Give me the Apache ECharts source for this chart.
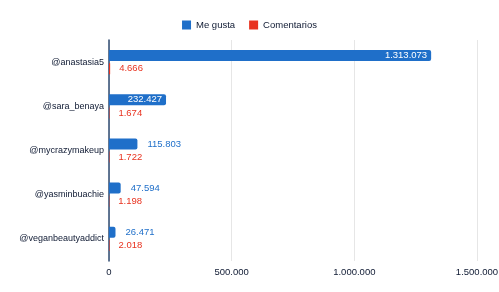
<!DOCTYPE html>
<html>
<head>
<meta charset="utf-8">
<script src="https://cdn.jsdelivr.net/npm/echarts@6/dist/echarts.min.js"></script>
<style>
  html, body { margin: 0; padding: 0; background: #fff; }
  #chart { width: 499px; height: 292px; }
</style>
</head>
<body>
<div id="chart"></div>
<script>
// datos del gráfico
var cuentas = ['@anastasia5', '@sara_benaya', '@mycrazymakeup', '@yasminbuachie', '@veganbeautyaddict'];
var meGusta = [1313073, 232427, 115803, 47594, 26471];
var comentarios = [4666, 1674, 1722, 1198, 2018];
var ticksX = [0, 500000, 1000000, 1500000];

// separador de miles con punto
function fmt(n) {
  return String(n).replace(/\B(?=(\d{3})+(?!\d))/g, '.');
}

var AZUL = '#1f6fc9';
var ROJO = '#e8321f';
var TEXTO = '#0e1932';
var FUENTE = 'Liberation Sans, Arial, sans-serif';
var TAM = 9.5;

var myChart = echarts.init(document.getElementById('chart'));

// etiquetas de me gusta: dentro si la barra es grande
var datosMeGusta = meGusta.map(function (v) {
  var dentro = v > 200000;
  return {
    value: v,
    label: dentro
      ? { position: 'insideRight', color: '#fff', distance: 4 }
      : { position: 'right', color: AZUL, distance: 10 }
  };
});

var option = {
  animation: false,
  legend: {
    top: 15,
    left: 'center',
    itemWidth: 9,
    itemHeight: 9,
    itemGap: 14,
    icon: 'rect',
    textStyle: { color: TEXTO, fontSize: TAM, fontFamily: FUENTE },
    data: ['Me gusta', 'Comentarios']
  },
  grid: { left: 109, right: 22, top: 40, bottom: 31, containLabel: false, outerBoundsMode: 'none' },
  xAxis: {
    type: 'value',
    min: ticksX[0],
    max: ticksX[ticksX.length - 1],
    interval: 500000,
    axisLine: { show: false },
    axisTick: { show: false },
    splitLine: { lineStyle: { color: '#e6e6e6' } },
    axisLabel: {
      color: TEXTO,
      fontSize: TAM,
      fontFamily: FUENTE,
      margin: 6,
      formatter: function (v) { return fmt(v); }
    }
  },
  yAxis: {
    type: 'category',
    inverse: true,
    data: cuentas,
    axisLine: { show: true, lineStyle: { color: '#2e4a70', width: 1.5 } },
    axisTick: { show: false },
    axisLabel: {
      color: TEXTO,
      fontSize: 9,
      fontFamily: FUENTE,
      margin: 5
    }
  },
  series: [
    {
      name: 'Me gusta',
      type: 'bar',
      data: datosMeGusta,
      barWidth: 11,
      barGap: '20%',
      itemStyle: { color: AZUL, borderRadius: [0, 2, 2, 0] },
      label: {
        show: true,
        fontSize: TAM,
        fontFamily: FUENTE,
        formatter: function (p) { return fmt(p.value); }
      }
    },
    {
      name: 'Comentarios',
      type: 'bar',
      data: comentarios,
      barWidth: 11,
      itemStyle: { color: ROJO },
      label: {
        show: true,
        position: 'right',
        distance: 9,
        color: ROJO,
        fontSize: TAM,
        fontFamily: FUENTE,
        formatter: function (p) { return fmt(p.value); }
      }
    }
  ]
};

myChart.setOption(option, true);
</script>
</body>
</html>
